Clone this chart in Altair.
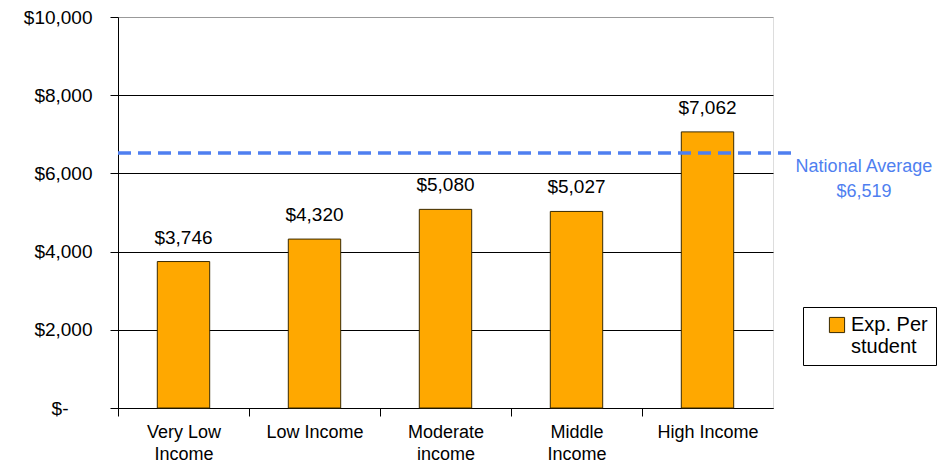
import altair as alt
import pandas as pd

categories = ["Very Low Income", "Low Income", "Moderate income", "Middle Income", "High Income"]
label_lines = [["Very Low", "Income"], ["Low Income"], ["Moderate", "income"], ["Middle", "Income"], ["High Income"]]
values = [3746, 4320, 5080, 5027, 7062]
series_name = "Exp. Per student"
national_average = 6519
avg_label = ["National Average", "$6,519"]

df = pd.DataFrame({"cat": categories, "value": values, "series": [series_name] * len(values)})
avg_df = pd.DataFrame({"value": [national_average], "label": [avg_label]})

FONT = "Liberation Sans"
label_map = "{" + ",".join(f"'{c}': {l!r}" for c, l in zip(categories, label_lines)) + "}"

x_enc = alt.X(
    "cat:N", sort=categories, title=None,
    scale=alt.Scale(paddingInner=0.6, paddingOuter=0.3),
    axis=alt.Axis(labelAngle=0, labelFontSize=18, labelColor="black", labelFont=FONT,
                  labelExpr=f"{label_map}[datum.value]", labelLineHeight=22,
                  tickOffset=-65.5, labelOffset=65.5, tickSize=8, tickColor="black", domainColor="black",
                  labelPadding=7, grid=False),
)
y_scale = alt.Scale(domain=[0, 10000], nice=False)
y_enc = alt.Y(
    "value:Q", scale=y_scale, title=None,
    axis=alt.Axis(values=[0, 2000, 4000, 6000, 8000, 10000], tickSize=8, tickColor="black",
                  domainColor="black", labelFontSize=19, labelColor="black", labelFont=FONT,
                  labelPadding={"condition": {"test": "datum.value === 0", "value": 42}, "value": 18},
                  labelExpr="datum.value == 0 ? '$-' : '$' + format(datum.value, ',')",
                  gridColor={"condition": {"test": "datum.value === 10000", "value": "#999999"}, "value": "black"},
                  gridWidth=1.2),
)

bars = alt.Chart(df).mark_bar(stroke="#3a2a00", strokeWidth=1).encode(
    x=x_enc,
    y=y_enc,
    color=alt.Color("series:N", scale=alt.Scale(range=["#FFA800"]),
                    legend=alt.Legend(title=None, orient="none", legendX=685, legendY=290,
                                      strokeColor="black", padding=8, symbolType="square",
                                      symbolSize=230, symbolStrokeColor="#3a2a00", symbolStrokeWidth=1,
                                      symbolOffset=16,
                                      labelExpr="['Exp. Per', 'student']", labelFontSize=20,
                                      labelFont=FONT, labelColor="black",
                                      labelLimit=300)),
)

texts = alt.Chart(df).mark_text(baseline="bottom", dy=-14, fontSize=19, font=FONT, color="black").encode(
    x=alt.X("cat:N", sort=categories),
    y=alt.Y("value:Q", scale=y_scale),
    text=alt.Text("value:Q", format="$,.0f"),
)

avg_line = alt.Chart(avg_df).mark_rule(color="#4F7FF0", strokeWidth=3.5, strokeDash=[13, 7]).encode(
    y=alt.Y("value:Q", scale=y_scale),
    x=alt.value(0),
    x2=alt.value(680),
)

avg_text = alt.Chart(avg_df).mark_text(baseline="top", dy=5, fontSize=18, font=FONT,
                                       color="#4F7FF0", lineHeight=25, align="center").encode(
    y=alt.Y("value:Q", scale=y_scale),
    x=alt.value(746),
    text="label",
)

chart = alt.layer(bars, texts, avg_line, avg_text).properties(
    width=655, height=391,
    autosize=alt.AutoSizeParams(type="none"),
    padding={"left": 110, "top": 9, "right": 164, "bottom": 57},
).configure_view(stroke="#999999", strokeWidth=1.5).configure(font=FONT, background="white")

chart.save("out.html", embed_options={"renderer": "svg", "actions": False})
